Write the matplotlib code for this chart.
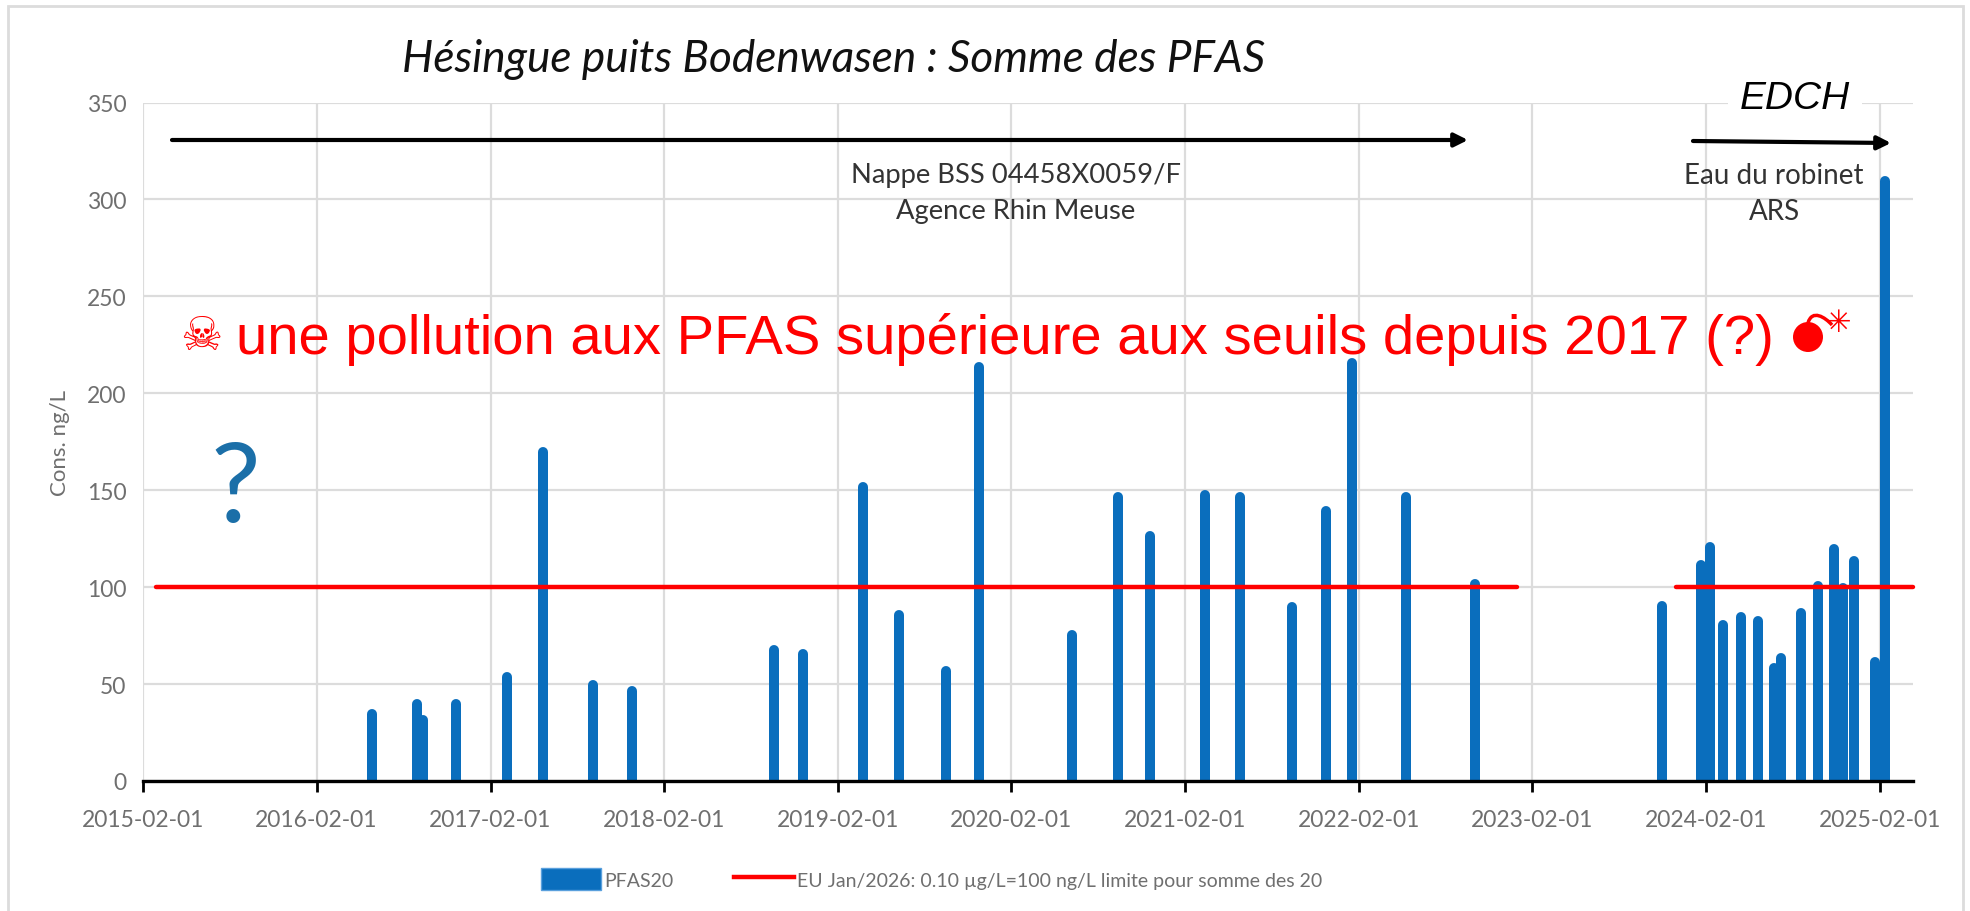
import pandas as pd
import matplotlib
matplotlib.use('Agg')
import matplotlib.pyplot as plt
import matplotlib.dates as mdates
from matplotlib.lines import Line2D
from matplotlib.patches import Patch, Rectangle, Ellipse, PathPatch, FancyArrowPatch
from matplotlib.path import Path

# Données
dates = ['2016-05-27', '2016-08-30', '2016-09-13', '2016-11-21', '2017-03-07', '2017-05-22',
         '2017-09-05', '2017-11-26', '2018-09-20', '2018-11-20', '2019-03-27', '2019-06-11',
         '2019-09-17', '2019-11-25', '2020-06-07', '2020-09-13', '2020-11-19', '2021-03-15',
         '2021-05-28', '2021-09-13', '2021-11-24', '2022-01-18', '2022-05-12', '2022-10-04',
         '2023-11-02', '2024-01-23', '2024-02-11', '2024-03-09', '2024-04-16', '2024-05-22',
         '2024-06-24', '2024-07-09', '2024-08-20', '2024-09-25', '2024-10-28', '2024-11-16',
         '2024-12-09', '2025-01-23', '2025-02-12']
pfas20 = [36, 41, 33, 41, 55, 171,
          51, 48, 69, 67, 153, 87,
          58, 215, 77, 148, 128, 149,
          148, 91, 141, 217, 148, 103,
          92, 113, 122, 82, 86, 84,
          60, 65, 88, 102, 121, 101,
          115, 63, 311]
limit_start = ['2015-03-01', '2023-12-01']
limit_end = ['2022-12-31', '2025-04-12']
limit_value = 100
x_ticks = pd.date_range('2015-02-01', '2025-02-01', freq='12MS')
y_ticks = [0, 50, 100, 150, 200, 250, 300, 350]

W, H = 1970, 912
BLUE = '#0a6ebd'
RED = '#ff0000'
GREY = '#6f6f6f'
SANS = ['Lato', 'DejaVu Sans']


def fx(x):
    return x / W


def fy(y):
    return 1 - y / H


fig = plt.figure(figsize=(W / 100, H / 100), dpi=100)
fig.add_artist(Rectangle((fx(8), -0.1), fx(1955), fy(7) + 0.1, transform=fig.transFigure,
                         fill=False, ec='#dcdcdc', lw=2))

ax = fig.add_axes([fx(143), fy(782), fx(1913 - 143), fy(103.5) - fy(782)])
ax.set_xlim(pd.Timestamp('2015-02-01'), pd.Timestamp('2025-04-12'))
ax.set_ylim(0, 350)
ax.grid(True, color='#dcdcdc', lw=1.6)
ax.set_axisbelow(True)
for s in ['top', 'right', 'left']:
    ax.spines[s].set_visible(False)
ax.spines['bottom'].set_linewidth(2.4)
ax.spines['bottom'].set_zorder(5)

ax.set_xticks(x_ticks)
ax.xaxis.set_major_formatter(mdates.DateFormatter('%Y-%m-%d'))
ax.set_yticks(y_ticks)
ax.tick_params(axis='x', length=8, width=2, colors='black', labelcolor=GREY, labelsize=16.5, pad=12)
ax.tick_params(axis='y', length=0, labelcolor=GREY, labelsize=16.5, pad=12)
for lab in ax.get_xticklabels() + ax.get_yticklabels():
    lab.set_family(SANS)
ax.set_ylabel('Cons. ng/L', color=GREY, fontsize=16, family=SANS, labelpad=12)

# barres aux bouts arrondis
bar_dates = pd.to_datetime(dates)
bars = ax.vlines(bar_dates, 0, [v - 1.5 for v in pfas20], color=BLUE, lw=7.2, capstyle='round', zorder=3)

for a, b in zip(limit_start, limit_end):
    ax.plot(pd.to_datetime([a, b]), [limit_value, limit_value], color=RED, lw=3.2,
            solid_capstyle='round', zorder=4, clip_on=False)

# titres et annotations
fig.text(fx(834), fy(59), 'Hésingue puits Bodenwasen : Somme des PFAS', style='italic', family=SANS,
         fontsize=31.8, ha='center', va='center', color='#111111')
fig.text(fx(1795), fy(99), 'EDCH', style='italic', family='Liberation Sans', fontsize=28, ha='center',
         va='center', color='black', zorder=6,
         bbox=dict(fc='white', ec='none', pad=0, boxstyle='square,pad=0.3'))
fig.text(fx(1016), fy(193), 'Nappe BSS 04458X0059/F\nAgence Rhin Meuse', family=SANS, fontsize=19.7,
         ha='center', va='center', color='#333333', linespacing=1.55, zorder=6)
fig.text(fx(1774), fy(194), 'Eau du robinet\nARS', family=SANS, fontsize=20,
         ha='center', va='center', color='#333333', linespacing=1.45, zorder=6)
fig.text(fx(236), fy(340), 'une pollution aux PFAS supérieure aux seuils depuis 2017 (?)',
         family='Liberation Sans', fontsize=40.5, color=RED, ha='left', va='center', zorder=6)
fig.text(fx(201), fy(337), '☠', family='DejaVu Sans', fontsize=34, color=RED, ha='center', va='center', zorder=6)
fig.text(fx(235), fy(491), '?', family=SANS, fontsize=80, color='#1b6fa8', ha='center', va='center', zorder=6)

# bombe
fig.add_artist(Ellipse((fx(1808), fy(338)), 30 / W, 30 / H, transform=fig.transFigure, fc=RED, ec='none', zorder=6))
fig.add_artist(PathPatch(Path([(fx(1808), fy(324)), (fx(1812), fy(310)), (fx(1825), fy(318)), (fx(1832), fy(326))],
                              [Path.MOVETO, Path.CURVE4, Path.CURVE4, Path.CURVE4]),
                         transform=fig.transFigure, fc='none', ec=RED, lw=2.5, zorder=6))
fig.text(fx(1838), fy(323), '✳', family='DejaVu Sans', fontsize=22, color=RED, ha='center', va='center', zorder=6)

# flèches
for (x0, y0, x1, y1) in [(172, 141, 1468, 141), (1693, 142, 1891, 144)]:
    fig.add_artist(FancyArrowPatch((fx(x0), fy(y0)), (fx(x1), fy(y1)), transform=fig.transFigure,
                                   arrowstyle='-|>', mutation_scale=20, color='black', lw=3,
                                   shrinkA=0, shrinkB=0, zorder=6))

handles = [Patch(fc=BLUE, ec='#5aa0dd', label='PFAS20'),
           Line2D([0], [0], color=RED, lw=3.2, label='EU Jan/2026: 0.10 µg/L=100 ng/L limite pour somme des 20')]
fig.legend(handles=handles, loc='center left', bbox_to_anchor=(fx(541), fy(880)), ncol=2, frameon=False,
           prop={'family': SANS, 'size': 14}, labelcolor=GREY, handlelength=3.1, handleheight=1.3,
           handletextpad=0.15, columnspacing=3.1, borderaxespad=0, borderpad=0)

fig.savefig('out.png', dpi=100)
